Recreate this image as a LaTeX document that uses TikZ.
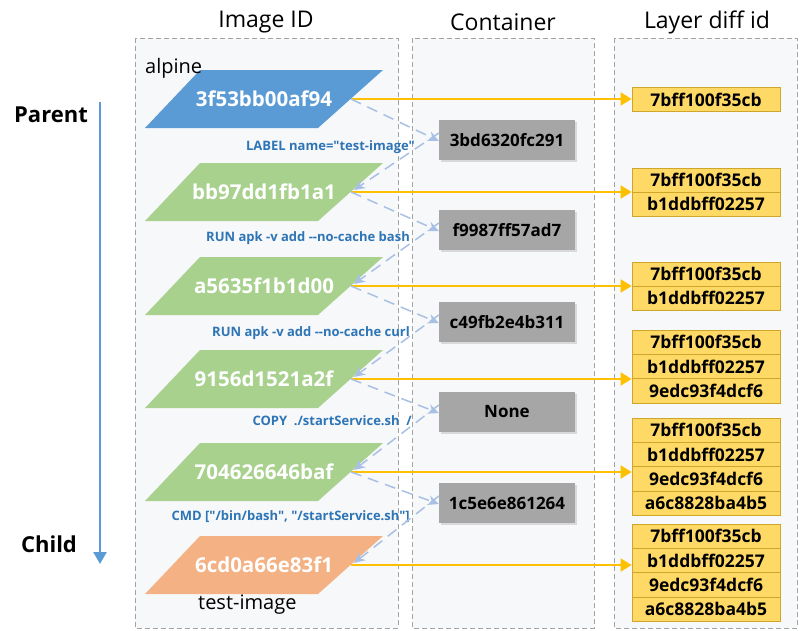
\documentclass[tikz,border=0pt]{standalone}
\usepackage{fontspec}
\setmainfont{Open Sans}[Ligatures=TeXOff]
\usetikzlibrary{arrows.meta,shadows,calc}
\definecolor{imgblue}{HTML}{5B9BD5}
\definecolor{imggreen}{HTML}{A9D18E}
\definecolor{imgorange}{HTML}{F4B183}
\definecolor{contgray}{HTML}{A6A6A6}
\definecolor{layyellow}{HTML}{FFD966}
\definecolor{layborder}{HTML}{CFA52A}
\definecolor{arrowyellow}{HTML}{FFC000}
\definecolor{dashblue}{HTML}{A9C0E5}
\definecolor{cmdblue}{HTML}{2E75B6}
\definecolor{colbg}{HTML}{F7F8FA}
\definecolor{colborder}{HTML}{A3A3A3}
\begin{document}
\begin{tikzpicture}[x=1pt,y=-1pt,
  column/.style={draw=colborder, dash pattern=on 5pt off 3pt, fill=colbg, line width=0.9pt},
  header/.style={font=\fontsize{23}{23}\selectfont, text=black, inner sep=0pt},
  sidelbl/.style={font=\fontsize{22}{22}\selectfont\bfseries, text=black, inner sep=0pt},
  namelbl/.style={font=\fontsize{20}{20}\selectfont, text=black, inner sep=0pt, anchor=west},
  hextext/.style={font=\fontsize{20.5}{20.5}\selectfont\bfseries, text=white, inner sep=0pt},
  cmdlbl/.style={font=\fontsize{13}{13}\selectfont\bfseries, text=cmdblue, inner sep=0pt, anchor=east},
  contbox/.style={fill=contgray, minimum width=136pt, minimum height=40pt, inner sep=0pt,
    font=\fontsize{17}{17}\selectfont\bfseries, text=black,
    drop shadow={shadow xshift=1.5pt, shadow yshift=-1.5pt, opacity=0.25}},
  laybox/.style={fill=layyellow, draw=layborder, line width=0.7pt, minimum width=148pt, minimum height=24.3pt,
    inner sep=0pt, font=\fontsize{17.5}{17.5}\selectfont\bfseries, text=black},
  yarrow/.style={draw=arrowyellow, line width=1.8pt, -{Triangle[length=11pt,width=13pt]}},
  darrow/.style={draw=dashblue, line width=1.5pt, dash pattern=on 11pt off 7pt, -{Stealth[length=11pt,width=10pt]}},
  parrow/.style={draw=imgblue, line width=2.5pt, -{Triangle[length=12pt,width=13pt]}}
]
\useasboundingbox (0,0) rectangle (800,630);

% column frames
\draw[column] (135,38) rectangle (398,628);
\draw[column] (412,38) rectangle (594,628);
\draw[column] (614,38) rectangle (797,628);

% headers
\node[header] (hImg) at (266,22) {Image ID};
\node[header] (hCont) at (503,22) {Container};
\node[header] (hLay) at (707,22) {Layer diff id};

% parent/child
\node[sidelbl] (parent) at (51,115) {Parent};
\node[sidelbl] (child) at (49,544) {Child};
\coordinate (arrtop) at (100,102);
\coordinate (arrbot) at (100,564);
\draw[parrow] (arrtop) -- (arrbot);

% images
\foreach \y/\c/\t [count=\i] in {99/imgblue/3f53bb00af94, 192/imggreen/bb97dd1fb1a1,
    286/imggreen/a5635f1b1d00, 379/imggreen/9156d1521a2f,
    472/imggreen/704626646baf, 565/imgorange/6cd0a66e83f1}{
  \fill[\c] (145,\y+29) -- (318,\y+29) -- (383,\y-29) -- (200,\y-29) -- cycle;
  \node[hextext] (img\i) at (264,\y) {\t};
  \coordinate (imgR\i) at (351,\y);
}
\node[namelbl] (alpine) at (145,68) {alpine};
\node[namelbl] (testimage) at (198,605) {test-image};

% commands
\node[cmdlbl] (cmd1) at (415,147) {LABEL name="test-image"};
\node[cmdlbl] (cmd2) at (410,238) {RUN apk -v add --no-cache bash};
\node[cmdlbl] (cmd3) at (410,333) {RUN apk -v add --no-cache curl};
\node[cmdlbl] (cmd4) at (412,421) {COPY \ ./startService.sh \ /};
\node[cmdlbl] (cmd5) at (410,517) {CMD ["/bin/bash", "/startService.sh"]};

% containers
\foreach \y/\t [count=\i] in {140/3bd6320fc291, 230/f9987ff57ad7, 322/c49fb2e4b311,
    412/None, 503/1c5e6e861264}{
  \node[contbox] (c\i) at (507,\y) {\t};
}

% layers
\node[laybox] (L1a) at (706,99.5) {7bff100f35cb};

\node[laybox] (L2a) at (706,180) {7bff100f35cb};
\node[laybox] (L2b) at (706,204.3) {b1ddbff02257};

\node[laybox] (L3a) at (706,274) {7bff100f35cb};
\node[laybox] (L3b) at (706,298.3) {b1ddbff02257};

\node[laybox] (L4a) at (706,342.2) {7bff100f35cb};
\node[laybox] (L4b) at (706,366.5) {b1ddbff02257};
\node[laybox] (L4c) at (706,390.8) {9edc93f4dcf6};

\node[laybox] (L5a) at (706,430.1) {7bff100f35cb};
\node[laybox] (L5b) at (706,454.4) {b1ddbff02257};
\node[laybox] (L5c) at (706,478.7) {9edc93f4dcf6};
\node[laybox] (L5d) at (706,503) {a6c8828ba4b5};

\node[laybox] (L6a) at (706,536.2) {7bff100f35cb};
\node[laybox] (L6b) at (706,560.5) {b1ddbff02257};
\node[laybox] (L6c) at (706,584.8) {9edc93f4dcf6};
\node[laybox] (L6d) at (706,609.1) {a6c8828ba4b5};

% yellow arrows
\draw[yarrow] (imgR1) -- (L1a.west |- imgR1);
\draw[yarrow] (imgR2) -- (L2a.west |- imgR2);
\draw[yarrow] (imgR3) -- (L3a.west |- imgR3);
\draw[yarrow] (imgR4) -- (L4a.west |- imgR4);
\draw[yarrow] (imgR5) -- (L5a.west |- imgR5);
\draw[yarrow] (imgR6) -- (L6a.west |- imgR6);

% dashed blue arrows
\foreach \i/\j in {1/2, 2/3, 3/4, 4/5, 5/6}{
  \draw[darrow] (imgR\i) -- ($(c\i.west)+(0,1)$);
  \draw[darrow] ($(c\i.west)+(0,-7)$) -- ($(imgR\j)+(3,-2)$);
}
\end{tikzpicture}
\end{document}
